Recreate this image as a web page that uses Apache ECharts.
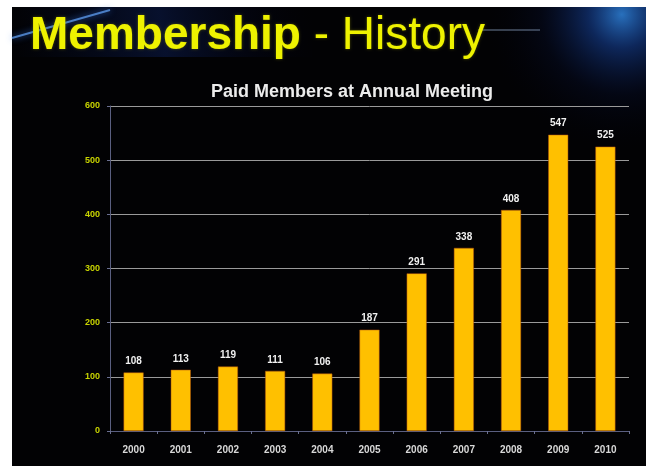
<!DOCTYPE html>
<html>
<head>
<meta charset="utf-8">
<script src="https://cdn.jsdelivr.net/npm/echarts@6/dist/echarts.min.js"></script>
<style>
html,body{margin:0;padding:0;background:#fff;}
#c{width:650px;height:466px;}
</style>
</head>
<body>
<div id="c"></div>
<script>
const categories = ['2000','2001','2002','2003','2004','2005','2006','2007','2008','2009','2010'];
const members = [108, 113, 119, 111, 106, 187, 291, 338, 408, 547, 525];
const yTicks = { min: 0, max: 600, interval: 100 };

const chart = echarts.init(document.getElementById('c'));
chart.setOption({
  backgroundColor: '#ffffff',
  animation: false,
  graphic: [
    { type: 'rect', z: -10, shape: { x: 12, y: 7, width: 634, height: 459 }, style: { fill: '#020204' } },
    { type: 'rect', z: -9, shape: { x: 300, y: 7, width: 346, height: 150 },
      style: { fill: { type: 'radial', x: 0.93, y: 0.05, r: 0.9, colorStops: [
        { offset: 0, color: 'rgba(50,140,235,0.8)' },
        { offset: 0.25, color: 'rgba(25,75,175,0.5)' },
        { offset: 0.6, color: 'rgba(10,25,80,0.2)' },
        { offset: 1, color: 'rgba(0,0,20,0)' } ] } } },
    { type: 'rect', z: -9, shape: { x: 12, y: 7, width: 300, height: 50 },
      style: { fill: { type: 'linear', x: 0, y: 1, x2: 1, y2: 0, colorStops: [
        { offset: 0, color: 'rgba(10,30,100,0.0)' },
        { offset: 0.5, color: 'rgba(20,50,140,0.3)' },
        { offset: 1, color: 'rgba(0,0,40,0)' } ] } } },
    { type: 'line', z: -8, shape: { x1: 12, y1: 38, x2: 110, y2: 10 },
      style: { stroke: 'rgba(90,150,230,0.8)', lineWidth: 2, shadowBlur: 6, shadowColor: '#3070e0' } },
    { type: 'line', z: -8, shape: { x1: 478, y1: 30, x2: 540, y2: 30 },
      style: { stroke: 'rgba(120,140,170,0.6)', lineWidth: 1.5 } },
    { type: 'text', z: 10, style: {
        x: 30, y: 59, textVerticalAlign: 'bottom',
        text: '{a|Membership}{b| - History}',
        rich: {
          a: { fontFamily: 'Liberation Sans, Arial', fontWeight: 'bold', fontSize: 46, fill: '#EEF200', color: '#EEF200', textShadowColor: 'rgba(120,120,0,0.6)', textShadowBlur: 3 },
          b: { fontFamily: 'Liberation Sans, Arial', fontWeight: 'normal', fontSize: 46, fill: '#EEF200', color: '#EEF200', textShadowColor: 'rgba(120,120,0,0.6)', textShadowBlur: 3 }
        } } },
    { type: 'text', z: 10, style: {
        x: 352, y: 92, textAlign: 'center', textVerticalAlign: 'middle',
        text: 'Paid Members at Annual Meeting',
        font: 'bold 18px "Liberation Sans", Arial', fill: '#ececec' } }
  ],
  grid: { left: 110, right: 21, top: 106, bottom: 35 },
  xAxis: {
    type: 'category', data: categories,
    axisLine: { lineStyle: { color: '#5a5f80', width: 1 } },
    axisTick: { show: true, length: 3, lineStyle: { color: '#6a6f90' } },
    axisLabel: { color: '#d8d8d8', fontSize: 10, fontWeight: 'bold', fontFamily: 'Liberation Sans, Arial', margin: 14 }
  },
  yAxis: {
    type: 'value', min: yTicks.min, max: yTicks.max, interval: yTicks.interval,
    axisLine: { show: true, lineStyle: { color: '#5a5f80' } },
    axisTick: { show: true, length: 3, lineStyle: { color: '#6a6f90' } },
    splitLine: { lineStyle: { color: '#9a9a9a', width: 1 } },
    axisLabel: { color: '#c8d400', fontSize: 9, fontWeight: 'bold', fontFamily: 'Liberation Sans, Arial', margin: 10 }
  },
  series: [{
    type: 'bar', data: members, barWidth: 20,
    itemStyle: { color: '#FFC000', borderColor: '#b05010', borderWidth: 0.5 },
    label: { show: true, position: 'top', distance: 6, color: '#f0f0f0', fontSize: 10, fontWeight: 'bold', fontFamily: 'Liberation Sans, Arial' }
  }]
});
</script>
</body>
</html>
